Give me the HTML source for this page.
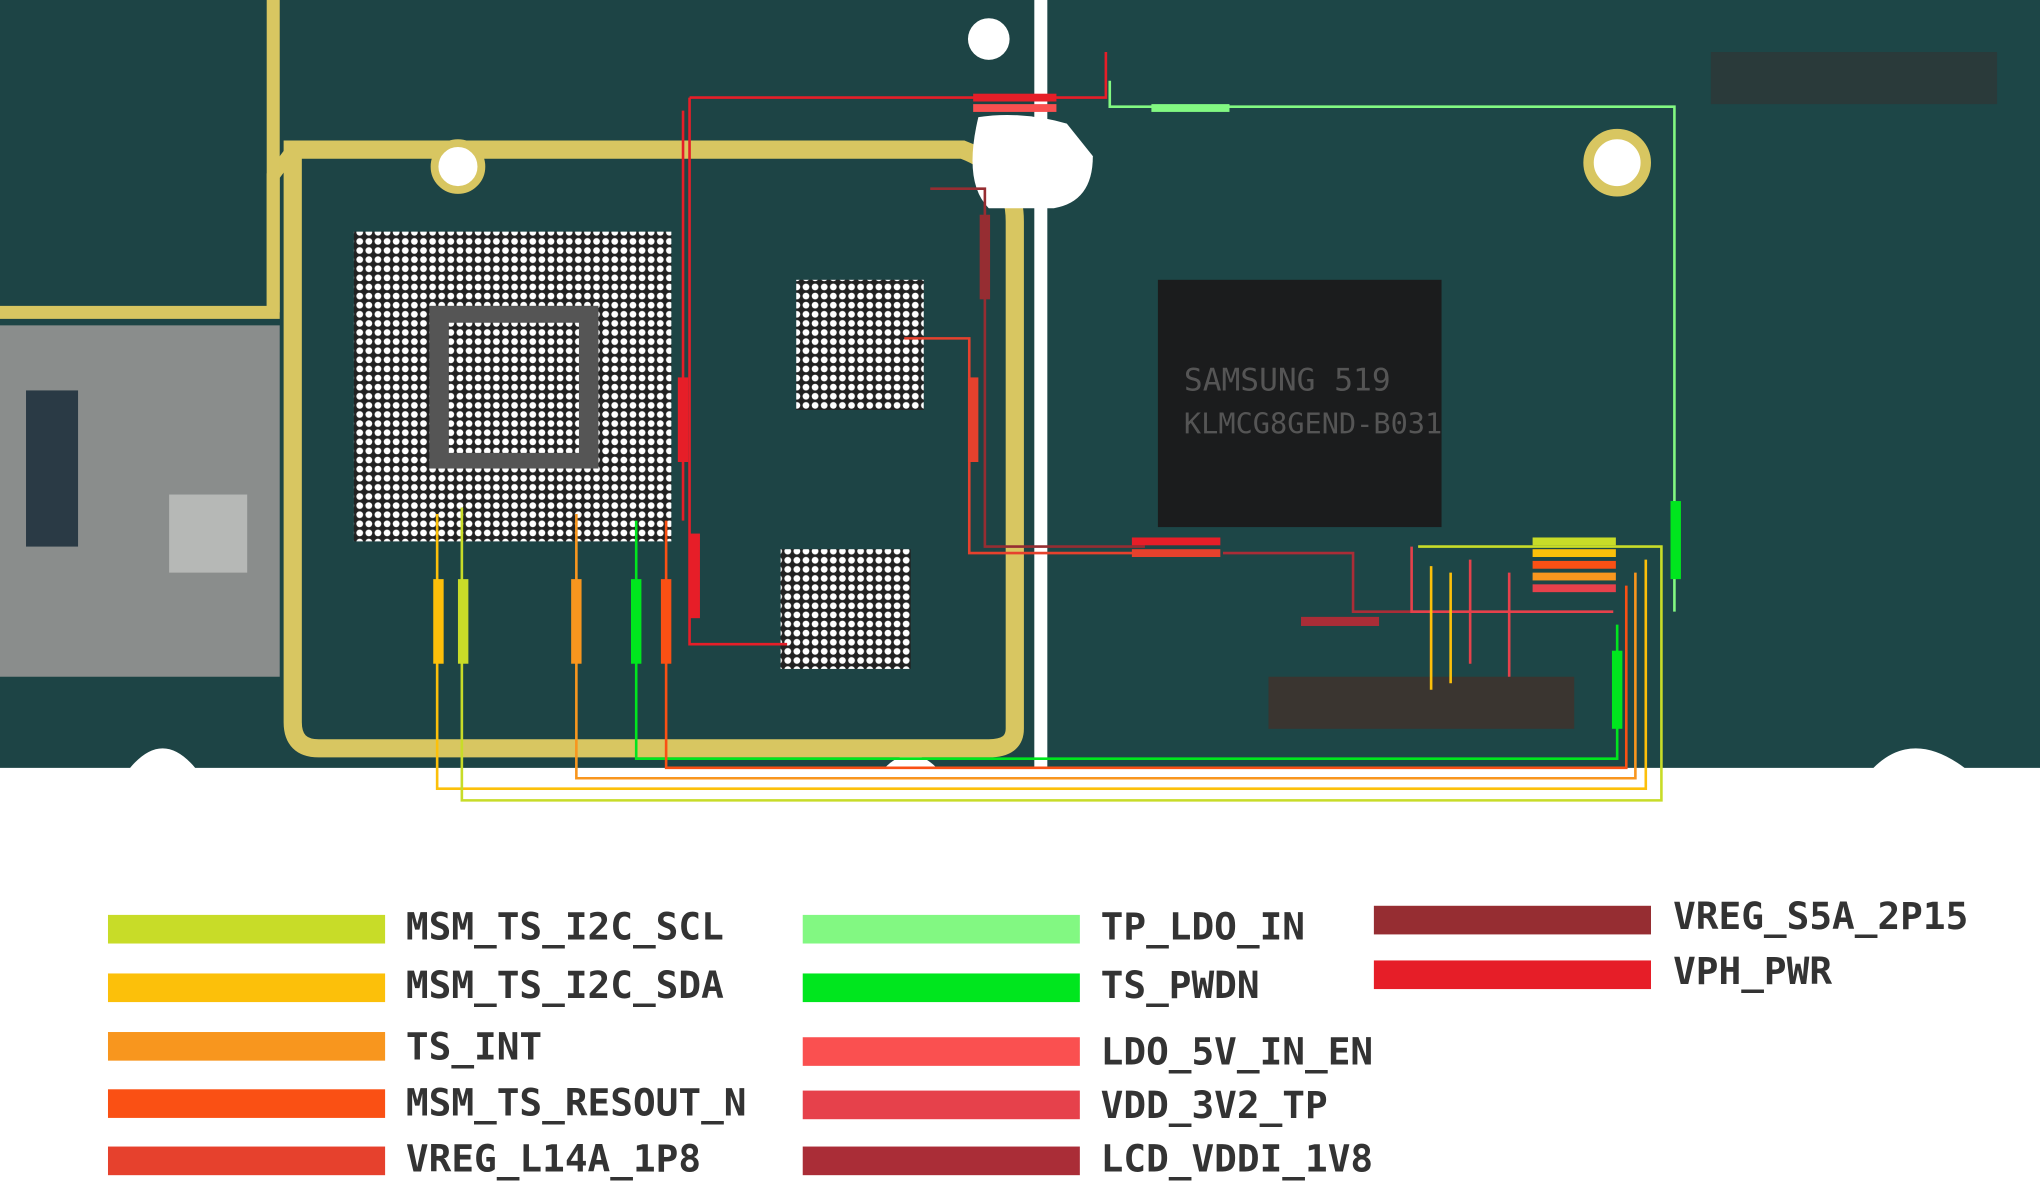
<!DOCTYPE html>
<html><head><meta charset="utf-8"><style>
html,body{margin:0;padding:0;background:#fff;width:2040px;height:1196px;overflow:hidden}
svg{display:block}
text{font-family:"DejaVu Sans Mono","Liberation Mono",monospace;font-weight:bold;fill:#333;font-size:29px}
</style></head><body>
<svg width="2040" height="1196" viewBox="0 0 1568 919" preserveAspectRatio="none">
<defs>
<pattern id="dots" width="7" height="7" patternUnits="userSpaceOnUse"><rect width="7" height="7" fill="#222"/><circle cx="3.5" cy="3.5" r="2.6" fill="#fff"/></pattern>
</defs>
<path d="M0 0 H795 V590 H720 Q700 570 680 590 H150 Q125 560 100 590 H0 Z" fill="#1d4445"/>
<path d="M805 0 H1568 V590 H1510 Q1470 560 1440 590 H805 Z" fill="#1d4647"/>
<rect x="0" y="250" width="215" height="270" fill="#8a8d8c"/>
<rect x="20" y="300" width="40" height="120" fill="#2a3a45"/>
<rect x="130" y="380" width="60" height="60" fill="#b6b8b6"/>
<path d="M225 115 H740 Q780 130 780 170 V560 Q780 575 760 575 H245 Q225 575 225 555 Z" fill="none" stroke="#d8c661" stroke-width="14"/>
<path d="M0 240 H210 V135 L225 115" fill="none" stroke="#d8c661" stroke-width="10"/>
<path d="M210 0 V240" fill="none" stroke="#d8c661" stroke-width="10"/>
<circle cx="352" cy="128" r="18" fill="#fff" stroke="#d8c661" stroke-width="6"/>
<circle cx="1243" cy="125" r="22" fill="#fff" stroke="#d8c661" stroke-width="8"/>
<circle cx="760" cy="30" r="16" fill="#fff"/>
<path d="M752 90 Q785 85 820 95 L840 120 Q840 155 810 160 L760 160 Q740 140 752 90 Z" fill="#fff"/>
<rect x="272" y="178" width="244" height="238" fill="url(#dots)"/>
<rect x="330" y="235" width="130" height="125" fill="#555"/>
<rect x="345" y="248" width="100" height="100" fill="url(#dots)"/>
<rect x="612" y="215" width="98" height="100" fill="url(#dots)"/>
<rect x="600" y="422" width="100" height="92" fill="url(#dots)"/>
<rect x="890" y="215" width="218" height="190" fill="#1b1c1d"/>
<text x="910" y="300" style="font-size:24px;fill:#555;font-weight:normal">SAMSUNG  519</text>
<text x="910" y="333" style="font-size:22px;fill:#555;font-weight:normal">KLMCG8GEND-B031</text>
<rect x="975" y="520" width="235" height="40" fill="#3a3530"/>
<rect x="1315" y="40" width="220" height="40" fill="#2a3a3a"/>
<g fill="none" stroke-width="2">
<path d="M489 400 V583 H1243 V480" stroke="#00e61e"/>
<path d="M512 400 V590 H1250 V450" stroke="#fa5014"/>
<path d="M443 395 V598 H1257 V440" stroke="#f8961e"/>
<path d="M336 395 V606 H1265 V430" stroke="#fcc00a"/>
<path d="M355 390 V615 H1277 V420 H1090" stroke="#c8dc28"/>
<path d="M853 62 V82 H1287 V470" stroke="#82f882"/>
<path d="M530 75 H850 V40" stroke="#e61e28"/>
<path d="M525 85 V400 M530 75 V495 H605" stroke="#e61e28"/>
<path d="M715 145 H757 V420 H880" stroke="#962d32"/>
<path d="M695 260 H745 V425 H880" stroke="#e6412d"/>
<path d="M940 425 H1040 V470 H1100 V520" stroke="#aa2d37"/>
<path d="M1085 420 V470 H1240 M1130 430 V510 M1160 440 V520" stroke="#e6414b"/>
<path d="M1100 435 V530 M1115 440 V525" stroke="#fcc00a"/>
</g>
<g>
<rect x="333" y="445" width="8" height="65" fill="#fcc00a"/>
<rect x="352" y="445" width="8" height="65" fill="#c8dc28"/>
<rect x="439" y="445" width="8" height="65" fill="#f8961e"/>
<rect x="485" y="445" width="8" height="65" fill="#00e61e"/>
<rect x="508" y="445" width="8" height="65" fill="#fa5014"/>
<rect x="521" y="290" width="8" height="65" fill="#e61e28"/>
<rect x="530" y="410" width="8" height="65" fill="#e61e28"/>
<rect x="753" y="165" width="8" height="65" fill="#962d32"/>
<rect x="744" y="290" width="8" height="65" fill="#e6412d"/>
<rect x="748" y="72" width="64" height="6" fill="#e61e28"/>
<rect x="748" y="80" width="64" height="6" fill="#fa5050"/>
<rect x="885" y="80" width="60" height="6" fill="#82f882"/>
<rect x="870" y="413" width="68" height="6" fill="#e61e28"/>
<rect x="870" y="422" width="68" height="6" fill="#e6412d"/>
<rect x="1000" y="474" width="60" height="7" fill="#aa2d37"/>
<rect x="1178" y="413" width="64" height="6" fill="#c8dc28"/>
<rect x="1178" y="422" width="64" height="6" fill="#fcc00a"/>
<rect x="1178" y="431" width="64" height="6" fill="#fa5014"/>
<rect x="1178" y="440" width="64" height="6" fill="#f8961e"/>
<rect x="1178" y="449" width="64" height="6" fill="#e6414b"/>
<rect x="1284" y="385" width="8" height="60" fill="#00e61e"/>
<rect x="1239" y="500" width="8" height="60" fill="#00e61e"/>
</g>
<rect x="83" y="703" width="213" height="22" fill="#c8dc28"/>
<rect x="83" y="748" width="213" height="22" fill="#fcc00a"/>
<rect x="83" y="793" width="213" height="22" fill="#f8961e"/>
<rect x="83" y="837" width="213" height="22" fill="#fa5014"/>
<rect x="83" y="881" width="213" height="22" fill="#e6412d"/>
<rect x="617" y="703" width="213" height="22" fill="#82f882"/>
<rect x="617" y="748" width="213" height="22" fill="#00e61e"/>
<rect x="617" y="797" width="213" height="22" fill="#fa5050"/>
<rect x="617" y="838" width="213" height="22" fill="#e6414b"/>
<rect x="617" y="881" width="213" height="22" fill="#aa2d37"/>
<rect x="1056" y="696" width="213" height="22" fill="#962d32"/>
<rect x="1056" y="738" width="213" height="22" fill="#e61e28"/>
<text x="312" y="722">MSM_TS_I2C_SCL</text>
<text x="312" y="767">MSM_TS_I2C_SDA</text>
<text x="312" y="814">TS_INT</text>
<text x="312" y="857">MSM_TS_RESOUT_N</text>
<text x="312" y="900">VREG_L14A_1P8</text>
<text x="846" y="722">TP_LDO_IN</text>
<text x="846" y="767">TS_PWDN</text>
<text x="846" y="818">LDO_5V_IN_EN</text>
<text x="846" y="859">VDD_3V2_TP</text>
<text x="846" y="900">LCD_VDDI_1V8</text>
<text x="1286" y="714">VREG_S5A_2P15</text>
<text x="1286" y="756">VPH_PWR</text>
</svg>
</body></html>
